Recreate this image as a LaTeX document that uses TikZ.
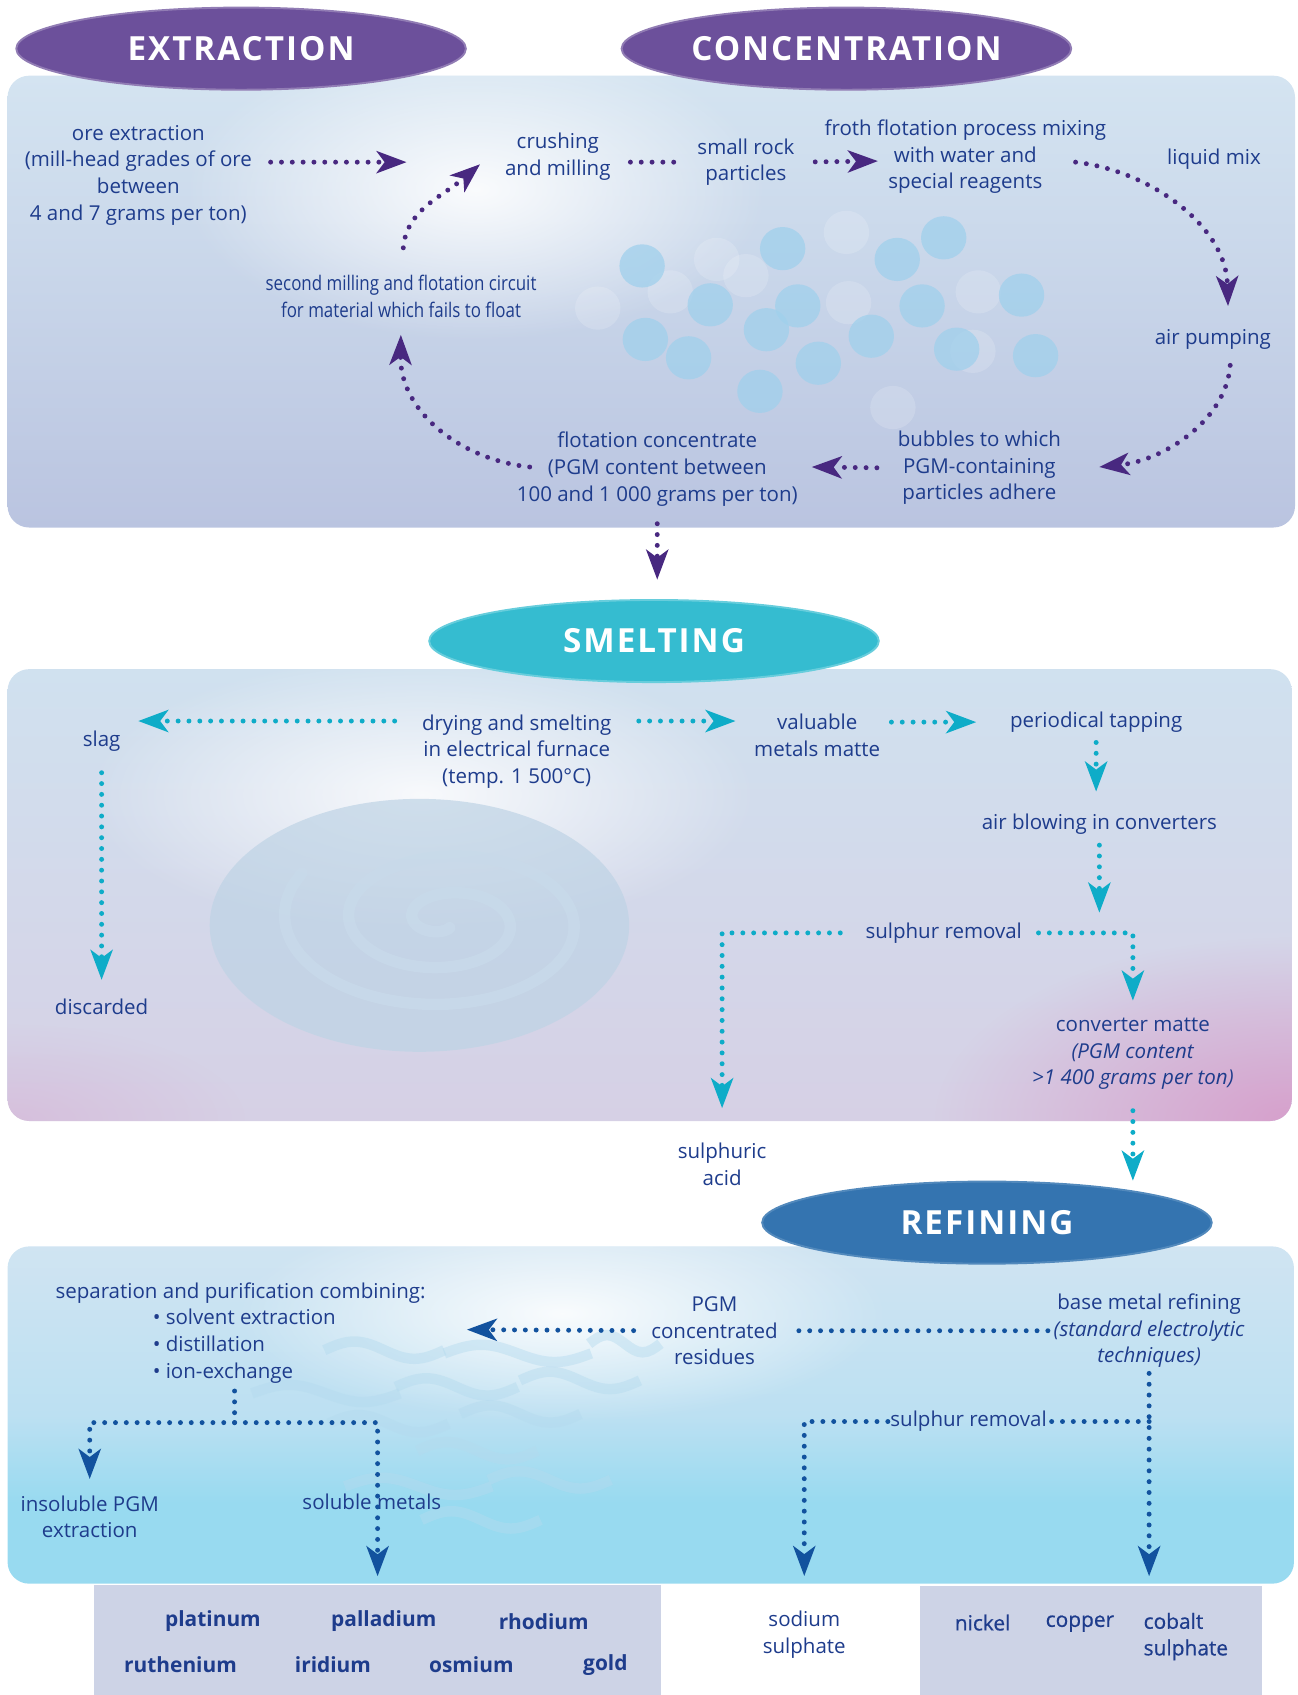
\documentclass[tikz,border=0pt]{standalone}
\usepackage{fontspec}
\setmainfont{Open Sans}
\newfontfamily\headfont[LetterSpace=6]{Open Sans}
\newfontfamily\narrowfont[FakeStretch=0.84]{Open Sans}
\newfontfamily\semifont[FakeBold=0.6]{Open Sans}
\usetikzlibrary{arrows.meta,shapes.geometric,fadings}
\definecolor{txtblue}{RGB}{30,60,140}
\definecolor{extrviolet}{RGB}{108,80,155}
\definecolor{smeltteal}{RGB}{53,188,208}
\definecolor{refblue}{RGB}{52,116,176}
\definecolor{dotviolet}{RGB}{72,40,128}
\definecolor{dotteal}{RGB}{14,172,200}
\definecolor{dotblue}{RGB}{18,82,158}
\definecolor{bubblue}{RGB}{160,208,236}
\definecolor{metalgrey}{RGB}{205,211,230}
\definecolor{conctop}{RGB}{212,228,241}
\definecolor{concbot}{RGB}{186,196,224}
\definecolor{smelttop}{RGB}{208,225,239}
\definecolor{smeltbot}{RGB}{214,208,229}
\definecolor{smeltpink}{RGB}{214,160,204}
\definecolor{reftop}{RGB}{208,228,242}
\definecolor{refmid}{RGB}{188,224,242}
\definecolor{refcyan}{RGB}{152,218,240}
\definecolor{swirldark}{RGB}{190,211,229}
\definecolor{swirllight}{RGB}{200,218,234}
\definecolor{wavecol}{RGB}{180,218,238}
\tikzfading[name=glow,inner color=transparent!0,outer color=transparent!100]
\pgfdeclareverticalshading{refshade}{100bp}{color(0bp)=(refcyan); color(25bp)=(refcyan); color(37bp)=(refcyan); color(50bp)=(refmid); color(75bp)=(reftop); color(100bp)=(reftop)}
\begin{document}
\begin{tikzpicture}[x=0.02cm,y=-0.02cm]
    \tikzset{
      txt/.style={text=txtblue,align=center,inner sep=0pt,font=\fontsize{10.8}{14}\selectfont},
      narrowtxt/.style={txt,font=\narrowfont\fontsize{10.6}{14}\selectfont},
      metal/.style={txt,font=\fontsize{11}{14}\selectfont\bfseries},
      semimetal/.style={txt,font=\semifont\fontsize{11}{14}\selectfont},
      headoval/.style={ellipse,minimum width=8.32cm,minimum height=1.52cm,inner sep=0pt,
        text=white,line width=1pt,font=\headfont\fontsize{17.5}{20}\selectfont\bfseries},
      metalbox/.style={fill=metalgrey,inner sep=0pt,anchor=north west},
      panel/.style={rounded corners=0.4cm},
      dots/.style={line width=2.6pt,line cap=round,dash pattern=on 0pt off 5.7pt},
      arrowed/.style={-{Stealth[length=16pt,width=12pt,inset=4.5pt,line width=0pt]}},
      pflow/.style={dots,arrowed,dotviolet},
      pline/.style={dots,dotviolet},
      tflow/.style={dots,arrowed,dotteal},
      bflow/.style={dots,arrowed,dotblue},
      bline/.style={dots,dotblue},
      ripple/.style={wavecol,opacity=.45,line width=5.5pt}}
    \useasboundingbox (0,0) rectangle (1200,1568);

    \shade[panel,top color=conctop,bottom color=concbot] (7,70) rectangle (1198,488);
    \begin{scope}
      \clip[panel] (7,70) rectangle (1198,488);
      \fill[white,path fading=glow,opacity=.9] (440,175) ellipse (270 and 140);
    \end{scope}
    \foreach \bx/\by in {663/240,783/215,553/285,620/270,785/280,905/270,826/377,900/325,690/255}
      \fill[white,opacity=.16] (\bx,\by) ellipse (21 and 20);
    \foreach \bx/\by in {594/246,724/230,830/240,873/220,657/282,738/283,709/305,806/311,853/283,945/273,597/314,637/331,757/336,885/323,958/329,703/362}
      \fill[bubblue,opacity=.75] (\bx,\by) ellipse (21 and 20);

    \shade[panel,top color=smelttop,bottom color=smeltbot] (7,619) rectangle (1195,1037);
    \begin{scope}
      \clip[panel] (7,619) rectangle (1195,1037);
      \fill[white,path fading=glow,opacity=.85] (390,735) ellipse (310 and 130);
      \fill[smeltpink,path fading=glow] (1195,1037) ellipse (330 and 170);
      \fill[smeltpink,path fading=glow,opacity=.35] (7,1037) ellipse (220 and 90);
    \end{scope}
    \fill[swirldark,opacity=.7] (388,856) ellipse (194 and 117);
    \draw[swirllight,opacity=.8,line width=6pt,line cap=round] plot[smooth,domain=70:930,samples=100]
      ({412+0.165*\x*cos(\x)},{852+0.095*\x*sin(\x)});

    \shade[panel,shading=refshade] (7,1153) rectangle (1197,1465);
    \begin{scope}
      \clip[panel] (7,1153) rectangle (1197,1465);
      \fill[white,path fading=glow,opacity=.9] (520,1215) ellipse (300 and 100);
    \end{scope}
    \foreach \wx/\wy/\ww in {300/1249/111,411/1252/136,545/1243/66,233/1289/137,366/1283/113,481/1277/111,304/1317/111,426/1308/111,386/1342/111,452/1369/113,319/1375/136,390/1406/110}
      \draw[ripple] (\wx,\wy) sin ++(\ww/4,-8) cos ++(\ww/4,8) sin ++(\ww/4,8) cos ++(\ww/4,-8);

    \node[metalbox,minimum width=10.48cm,minimum height=2.04cm] (pgmbox) at (87,1466) {};
    \node[metalbox,minimum width=6.32cm,minimum height=2.02cm] (basebox) at (851,1467) {};

    \node[headoval,fill=extrviolet,draw=extrviolet!75!white] (extr) at (223,45) {EXTRACTION};
    \node[headoval,fill=extrviolet,draw=extrviolet!75!white] (conc) at (783,45) {CONCENTRATION};
    \node[headoval,fill=smeltteal,draw=smeltteal!75!white] (smelt) at (605,593) {SMELTING};
    \node[headoval,fill=refblue,draw=refblue!85!white] (refine) at (913,1131) {REFINING};

    \node[txt] (ore) at (128,162) {ore extraction\\(mill-head grades of ore\\between\\4 and 7 grams per ton)};
    \node[txt] (crush) at (516,145) {crushing\\and milling};
    \node[txt] (rock) at (690,150) {small rock\\particles};
    \node[txt] (froth) at (893,145) {froth flotation process mixing\\with water and\\special reagents};
    \node[txt] (liquid) at (1123,147) {liquid mix};
    \node[txt] (air) at (1122,314) {air pumping};
    \node[txt] (bubbles) at (906,433) {bubbles to which\\PGM-containing\\particles adhere};
    \node[txt] (flotconc) at (608,434) {flotation concentrate\\(PGM content between\\100 and 1 000 grams per ton)};
    \node[narrowtxt] (second) at (371,274) {second milling and flotation circuit\\for material which fails to float};

    \node[txt] (drying) at (478,695) {drying and smelting\\in electrical furnace\\(temp. 1 500°C)};
    \node[txt] (slag) at (94,686) {slag};
    \node[txt] (discarded) at (94,931) {discarded};
    \node[txt] (valuable) at (756,680) {valuable\\metals matte};
    \node[txt] (periodical) at (1014,668) {periodical tapping};
    \node[txt] (airblow) at (1017,762) {air blowing in converters};
    \node[txt] (sulphA) at (873,863) {sulphur removal};
    \node[txt] (convmatte) at (1048,975) {converter matte\\\textit{(PGM content}\\\textit{>1 400 grams per ton)}};
    \node[txt] (sulphuric) at (668,1077) {sulphuric\\acid};

    \node[txt,align=left,anchor=west] (sep) at (51,1233) {separation and purification combining:\\
      \hspace*{1.8cm}• solvent extraction\\\hspace*{1.8cm}• distillation\\\hspace*{1.8cm}• ion-exchange};
    \node[txt] (pgmres) at (661,1231) {PGM\\concentrated\\residues};
    \node[txt] (basemetal) at (1063,1231) {base metal refining\\\textit{(standard electrolytic}\\\textit{techniques)}};
    \node[txt] (sulphB) at (896,1315) {sulphur removal};
    \node[txt] (insol) at (83,1403) {insoluble PGM\\extraction};
    \node[txt] (soluble) at (344,1389) {soluble metals};
    \node[txt] (sodium) at (744,1512) {sodium\\sulphate};

    \node[metal] (platinum) at (197,1500) {platinum};
    \node[metal] (palladium) at (355,1500) {palladium};
    \node[metal] (rhodium) at (503,1500) {rhodium};
    \node[metal] (ruthenium) at (167,1540) {ruthenium};
    \node[metal] (iridium) at (308,1540) {iridium};
    \node[metal] (osmium) at (436,1540) {osmium};
    \node[metal] (gold) at (560,1540) {gold};
    \node[semimetal] (nickel) at (909,1501) {nickel};
    \node[semimetal] (copper) at (999,1502) {copper};
    \node[semimetal,align=left] (cobalt) at (1097,1514) {cobalt\\sulphate};

    \coordinate (t1) at (376,150);
    \coordinate (t2) at (444,152);
    \coordinate (t4) at (812,149);
    \coordinate (s5) at (995,150);
    \coordinate (t5) at (1136,283);
    \coordinate (s6) at (1138,338);
    \coordinate (t6) at (1017,432);
    \coordinate (t7) at (751,432);
    \coordinate (s8) at (490,432);
    \coordinate (slagin) at (128,667);
    \coordinate (sepin) at (432,1230);
    \coordinate (j1) at (217,1316);

    \draw[pflow,shorten <=0.34cm] (ore.east |- t1) -- (t1);
    \draw[pflow,shorten <=0.5cm] (second.north) .. controls +(5,-60) and +(-35,30) .. (t2);
    \draw[pline,shorten <=0.36cm,shorten >=0.32cm] (crush.east |- rock.west) -- (rock.west);
    \draw[pflow,shorten <=0.38cm] (rock.east) -- (t4);
    \draw[pflow] (s5) .. controls (1065,158) and (1134,210) .. (t5);
    \draw[pflow] (s6) .. controls (1134,390) and (1075,426) .. (t6);
    \draw[pflow,shorten <=0.38cm] (bubbles.west) -- (t7);
    \draw[pflow,shorten >=0.32cm] (s8) .. controls (425,425) and (370,380) .. (second.south);
    \draw[pflow,shorten <=0.32cm,shorten >=0.36cm] (flotconc.south) -- (flotconc.south |- smelt.north);

    \draw[tflow,shorten <=0.5cm] (drying.west |- slagin) -- (slagin);
    \draw[tflow,shorten <=0.5cm,shorten >=0.34cm] (drying.east |- slagin) -- (valuable.west |- slagin);
    \draw[tflow,shorten <=0.2cm,shorten >=0.62cm] (valuable.east |- periodical.west) -- (periodical.west);
    \draw[tflow,shorten <=0.18cm,shorten >=0.4cm] (periodical.south) -- (periodical.south |- airblow.north);
    \draw[tflow,shorten <=0.2cm,shorten >=0.18cm] (airblow.south) -- (airblow.south |- sulphA.north);
    \draw[tflow,shorten <=0.3cm,shorten >=0.32cm] (sulphA.east) -| (convmatte.north);
    \draw[tflow,shorten <=0.46cm,shorten >=0.64cm] (sulphA.west) -| (sulphuric.north);
    \draw[tflow,shorten <=0.38cm,shorten >=0.34cm] (slag.south) -- (discarded.north);
    \draw[tflow,shorten <=0.38cm] (convmatte.south) -- (convmatte.south |- refine.north);

    \draw[bflow,shorten <=0.32cm] (pgmres.west) -- (sepin);
    \draw[bline,shorten <=0.1cm,shorten >=0.34cm] (basemetal.west) -- (pgmres.east);
    \draw[bflow,shorten <=0.1cm,shorten >=0.18cm] (basemetal.south) -- (basemetal.south |- basebox.north);
    \draw[bline,shorten >=0.04cm] (basemetal.south |- sulphB.east) -- (sulphB.east);
    \draw[bflow,shorten <=0.04cm,shorten >=0.64cm] (sulphB.west) -| (sodium.north);
    \draw[bline,shorten <=0.14cm] (sep.south -| j1) -- (j1);
    \draw[bflow,shorten >=0.3cm] (j1) -| (insol.north);
    \draw[bflow,shorten >=0.16cm] (j1) -| (pgmbox.north);
\end{tikzpicture}
\end{document}
